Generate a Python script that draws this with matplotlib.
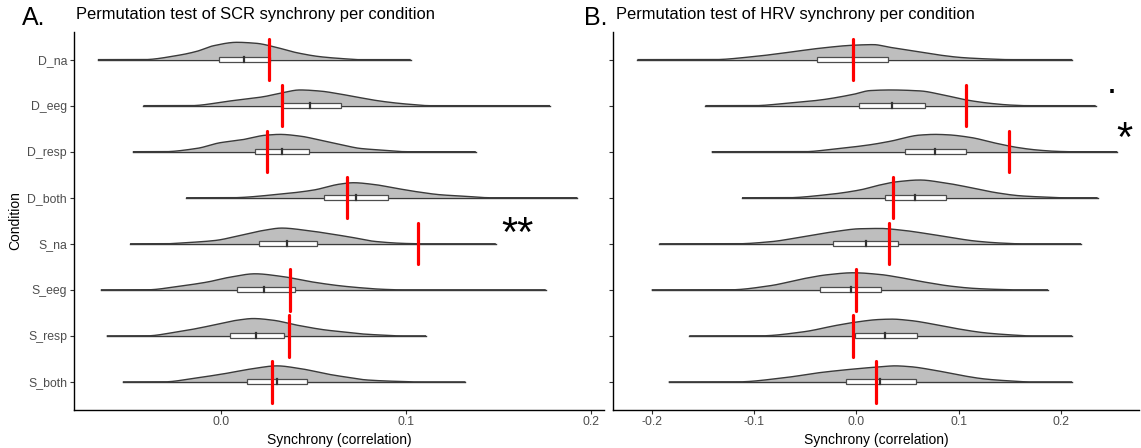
import numpy as np
import matplotlib
matplotlib.use("Agg")
import matplotlib.pyplot as plt
from matplotlib.patches import Rectangle

plt.rcParams['font.family'] = ['Liberation Sans', 'DejaVu Sans']

conditions = ["D_na", "D_eeg", "D_resp", "D_both", "S_na", "S_eeg", "S_resp", "S_both"]

# ---------------- Panel A: SCR ----------------
titleA = "Permutation test of SCR synchrony per condition"
minA = [-0.0666, -0.0420, -0.0477, -0.0189, -0.0492, -0.0650, -0.0618, -0.0531]
q1A = [-0.0009, 0.0328, 0.0186, 0.0555, 0.0204, 0.0085, 0.0050, 0.0142]
medA = [0.0126, 0.0481, 0.0328, 0.0728, 0.0359, 0.0234, 0.0189, 0.0301]
q3A = [0.0265, 0.0647, 0.0477, 0.0904, 0.0520, 0.0400, 0.0342, 0.0463]
maxA = [0.1025, 0.1778, 0.1377, 0.1926, 0.1485, 0.1755, 0.1108, 0.1321]
obsA = [0.0261, 0.0328, 0.0247, 0.0679, 0.1066, 0.0373, 0.0369, 0.0274]
sigA = ["", "", "", "", "**", "", "", ""]
peakA = [0.376, 0.341, 0.376, 0.326, 0.341, 0.348, 0.376, 0.348]  # slab peak height (rows)
densA = [
    [(-0.0420, 0), (-0.0231, 0.25), (-0.0131, 0.48), (-0.0042, 0.80), (0.0085, 1.0),
     (0.0193, 0.94), (0.0283, 0.75), (0.0409, 0.40), (0.0535, 0.17), (0.0679, 0.04), (0.0740, 0)],
    [(-0.0168, 0), (0.0049, 0.30), (0.0229, 0.57), (0.0319, 0.79), (0.0427, 1.0),
     (0.0535, 0.93), (0.0643, 0.74), (0.0751, 0.51), (0.0822, 0.36), (0.0914, 0.21), (0.1005, 0.10), (0.1130, 0)],
    [(-0.0312, 0), (-0.0131, 0.19), (-0.0005, 0.52), (0.0103, 0.67), (0.0247, 0.96),
     (0.0319, 1.0), (0.0427, 0.90), (0.0535, 0.67), (0.0660, 0.38), (0.0751, 0.19), (0.0859, 0.10), (0.1005, 0)],
    [(0.0049, 0), (0.0319, 0.24), (0.0499, 0.51), (0.0643, 0.91), (0.0715, 1.0),
     (0.0822, 0.89), (0.0950, 0.62), (0.1058, 0.40), (0.1184, 0.20), (0.1328, 0.09), (0.1454, 0)],
    [(-0.0303, 0), (-0.0204, 0.06), (-0.0032, 0.21), (0.0103, 0.53), (0.0229, 0.85),
     (0.0328, 1.0), (0.0463, 0.85), (0.0607, 0.60), (0.0697, 0.43), (0.0832, 0.15), (0.0995, 0.02), (0.1076, 0)],
    [(-0.0402, 0), (-0.0222, 0.23), (-0.0077, 0.48), (0.0049, 0.79), (0.0184, 1.0),
     (0.0319, 0.85), (0.0499, 0.48), (0.0643, 0.25), (0.0751, 0.13), (0.0859, 0.04), (0.0968, 0)],
    [(-0.0402, 0), (-0.0258, 0.19), (-0.0114, 0.46), (-0.0005, 0.71), (0.0085, 0.90),
     (0.0175, 1.0), (0.0283, 0.90), (0.0409, 0.62), (0.0571, 0.33), (0.0670, 0.22), (0.0751, 0.12), (0.0876, 0.04), (0.0968, 0)],
    [(-0.0312, 0), (-0.0131, 0.25), (0.0012, 0.50), (0.0175, 0.83), (0.0301, 1.0),
     (0.0427, 0.83), (0.0589, 0.46), (0.0670, 0.31), (0.0788, 0.12), (0.0931, 0.04), (0.1058, 0)],
]

# ---------------- Panel B: HRV ----------------
titleB = "Permutation test of HRV synchrony per condition"
minB = [-0.2140, -0.1476, -0.1414, -0.1118, -0.1926, -0.2000, -0.1633, -0.1834]
q1B = [-0.0383, 0.0027, 0.0477, 0.0278, -0.0227, -0.0356, -0.0015, -0.0105]
medB = [-0.0035, 0.0350, 0.0770, 0.0574, 0.0090, -0.0057, 0.0278, 0.0229]
q3B = [0.0311, 0.0672, 0.1066, 0.0871, 0.0405, 0.0236, 0.0590, 0.0580]
maxB = [0.2107, 0.2336, 0.2547, 0.2355, 0.2193, 0.1870, 0.2105, 0.2105]
obsB = [-0.0035, 0.1066, 0.1492, 0.0353, 0.0314, -0.0005, -0.0037, 0.0193]
sigB = ["", ".", "*", "", "", "", "", ""]
peakB = [0.326, 0.341, 0.376, 0.385, 0.333, 0.370, 0.363, 0.348]
densB = [
    [(-0.1398, 0), (-0.1008, 0.20), (-0.0682, 0.47), (-0.0356, 0.76), (-0.0031, 0.96),
     (0.0164, 1.0), (0.0327, 0.82), (0.0555, 0.58), (0.0783, 0.33), (0.1043, 0.13), (0.1304, 0.04), (0.1499, 0)],
    [(-0.1008, 0), (-0.0682, 0.15), (-0.0356, 0.36), (-0.0031, 0.72), (0.0132, 0.96),
     (0.0327, 1.0), (0.0620, 0.94), (0.0848, 0.68), (0.1076, 0.36), (0.1304, 0.15), (0.1499, 0.04), (0.1662, 0)],
    [(-0.0520, 0), (-0.0193, 0.17), (0.0132, 0.40), (0.0327, 0.60), (0.0620, 0.96),
     (0.0767, 1.0), (0.0881, 0.98), (0.1108, 0.83), (0.1369, 0.48), (0.1564, 0.25), (0.1760, 0.10), (0.1955, 0.02), (0.2085, 0)],
    [(-0.0682, 0), (-0.0291, 0.17), (0.0034, 0.44), (0.0229, 0.72), (0.0393, 0.90),
     (0.0620, 1.0), (0.0848, 0.85), (0.1108, 0.58), (0.1369, 0.28), (0.1597, 0.11), (0.1824, 0.04), (0.2017, 0)],
    [(-0.1170, 0), (-0.0845, 0.13), (-0.0520, 0.46), (-0.0227, 0.78), (0.0034, 0.98),
     (0.0229, 1.0), (0.0425, 0.90), (0.0669, 0.68), (0.0913, 0.42), (0.1157, 0.18), (0.1401, 0.05), (0.1597, 0)],
    [(-0.1235, 0), (-0.0845, 0.24), (-0.0520, 0.65), (-0.0291, 0.88), (-0.0031, 1.0),
     (0.0229, 0.90), (0.0425, 0.72), (0.0669, 0.45), (0.0913, 0.22), (0.1157, 0.08), (0.1401, 0.02), (0.1548, 0)],
    [(-0.0942, 0), (-0.0520, 0.24), (-0.0193, 0.63), (-0.0031, 0.80), (0.0229, 0.98),
     (0.0347, 1.0), (0.0522, 0.92), (0.0767, 0.68), (0.1010, 0.40), (0.1255, 0.18), (0.1499, 0.06), (0.1694, 0)],
    [(-0.1170, 0), (-0.0682, 0.28), (-0.0356, 0.58), (-0.0031, 0.80), (0.0229, 0.94),
     (0.0376, 1.0), (0.0522, 0.95), (0.0767, 0.72), (0.1010, 0.42), (0.1255, 0.18), (0.1499, 0.06), (0.1694, 0)],
]

xlabel = "Synchrony (correlation)"
ylabel = "Condition"


def pchip(xk, yk, xs):
    xk = np.asarray(xk, float)
    yk = np.asarray(yk, float)
    h = np.diff(xk)
    d = np.diff(yk) / h
    n = len(xk)
    m = np.zeros(n)
    for i in range(1, n - 1):
        if d[i - 1] * d[i] > 0:
            w1 = 2 * h[i] + h[i - 1]
            w2 = h[i] + 2 * h[i - 1]
            m[i] = (w1 + w2) / (w1 / d[i - 1] + w2 / d[i])
    idx = np.clip(np.searchsorted(xk, xs) - 1, 0, n - 2)
    t = (xs - xk[idx]) / h[idx]
    h00 = 2 * t**3 - 3 * t**2 + 1
    h10 = t**3 - 2 * t**2 + t
    h01 = -2 * t**3 + 3 * t**2
    h11 = t**3 - t**2
    out = h00 * yk[idx] + h10 * h[idx] * m[idx] + h01 * yk[idx + 1] + h11 * h[idx] * m[idx + 1]
    return np.clip(out, 0, None)


def draw_panel(ax, mins, q1s, meds, q3s, maxs, obs, dens, peaks, xlim, xticks):
    n = len(conditions)
    for i, cond in enumerate(conditions):
        y = n - i
        pts = dens[i]
        xk = [p[0] for p in pts]
        hk = [p[1] for p in pts]
        xs = np.linspace(mins[i], maxs[i], 800)
        hs = np.zeros_like(xs)
        inside = (xs >= xk[0]) & (xs <= xk[-1])
        hs[inside] = pchip(xk, hk, xs[inside])
        top = y + hs * peaks[i]
        ax.fill_between(xs, y, top, facecolor="#BEBEBE", edgecolor="none", zorder=2)
        ax.plot(xs, top, color="#3A3A3A", lw=1.0, zorder=3, solid_capstyle="butt")
        ax.plot([mins[i], maxs[i]], [y, y], color="#3A3A3A", lw=1.0, zorder=3)
        bh = 0.11
        ax.add_patch(Rectangle((q1s[i], y - bh / 2), q3s[i] - q1s[i], bh,
                               facecolor="white", edgecolor="#4D4D4D", lw=0.9, zorder=4))
        ax.plot([meds[i], meds[i]], [y - bh / 2, y + bh / 2], color="#333333", lw=1.6, zorder=5)
        ax.plot([obs[i], obs[i]], [y - 0.45, y + 0.45], color="#FF0000", lw=2.3, zorder=6,
                solid_capstyle="round")
    ax.set_xlim(*xlim)
    ax.set_ylim(0.4, n + 0.6)
    ax.set_yticks(range(n, 0, -1))
    ax.set_xticks(xticks)
    ax.set_xticklabels([f"{t:.1f}" for t in xticks])
    for s in ["top", "right"]:
        ax.spines[s].set_visible(False)
    for s in ["left", "bottom"]:
        ax.spines[s].set_linewidth(1.0)
        ax.spines[s].set_color("black")
    ax.tick_params(axis="both", length=3, width=0.8, color="#333333", labelcolor="#4D4D4D",
                   labelsize=8.8, pad=2)
    ax.set_xlabel(xlabel, fontsize=10, labelpad=3)


fig = plt.figure(figsize=(11.41, 4.48), dpi=100)
axA = fig.add_axes([74 / 1141, 38.5 / 448, 530 / 1141, 377.5 / 448])
axB = fig.add_axes([613 / 1141, 38.5 / 448, 526 / 1141, 377.5 / 448])

draw_panel(axA, minA, q1A, medA, q3A, maxA, obsA, densA, peakA,
           (-0.0795, 0.207), [0.0, 0.1, 0.2])
axA.set_yticklabels(conditions)
axA.set_ylabel(ylabel, fontsize=10, labelpad=4)

draw_panel(axB, minB, q1B, medB, q3B, maxB, obsB, densB, peakB,
           (-0.2378, 0.2759), [-0.2, -0.1, 0.0, 0.1, 0.2])
axB.set_yticklabels([])

# significance markers
axA.text(0.160, 4.19, sigA[4], fontsize=30, ha="center", va="center", color="black")
axB.text(0.249, 7.27, sigB[1], fontsize=26, ha="center", va="baseline", color="black")
axB.text(0.262, 6.25, sigB[2], fontsize=30, ha="center", va="center", color="black")

# titles and panel letters
fig.text(76 / 1141, 1 - 15 / 448, titleA, fontsize=11.9, ha="left", va="center")
fig.text(616 / 1141, 1 - 15 / 448, titleB, fontsize=11.9, ha="left", va="center")
fig.text(22 / 1141, 1 - 18 / 448, "A.", fontsize=18, ha="left", va="center")
fig.text(584 / 1141, 1 - 18 / 448, "B.", fontsize=18, ha="left", va="center")

fig.savefig("out.png", dpi=100)
